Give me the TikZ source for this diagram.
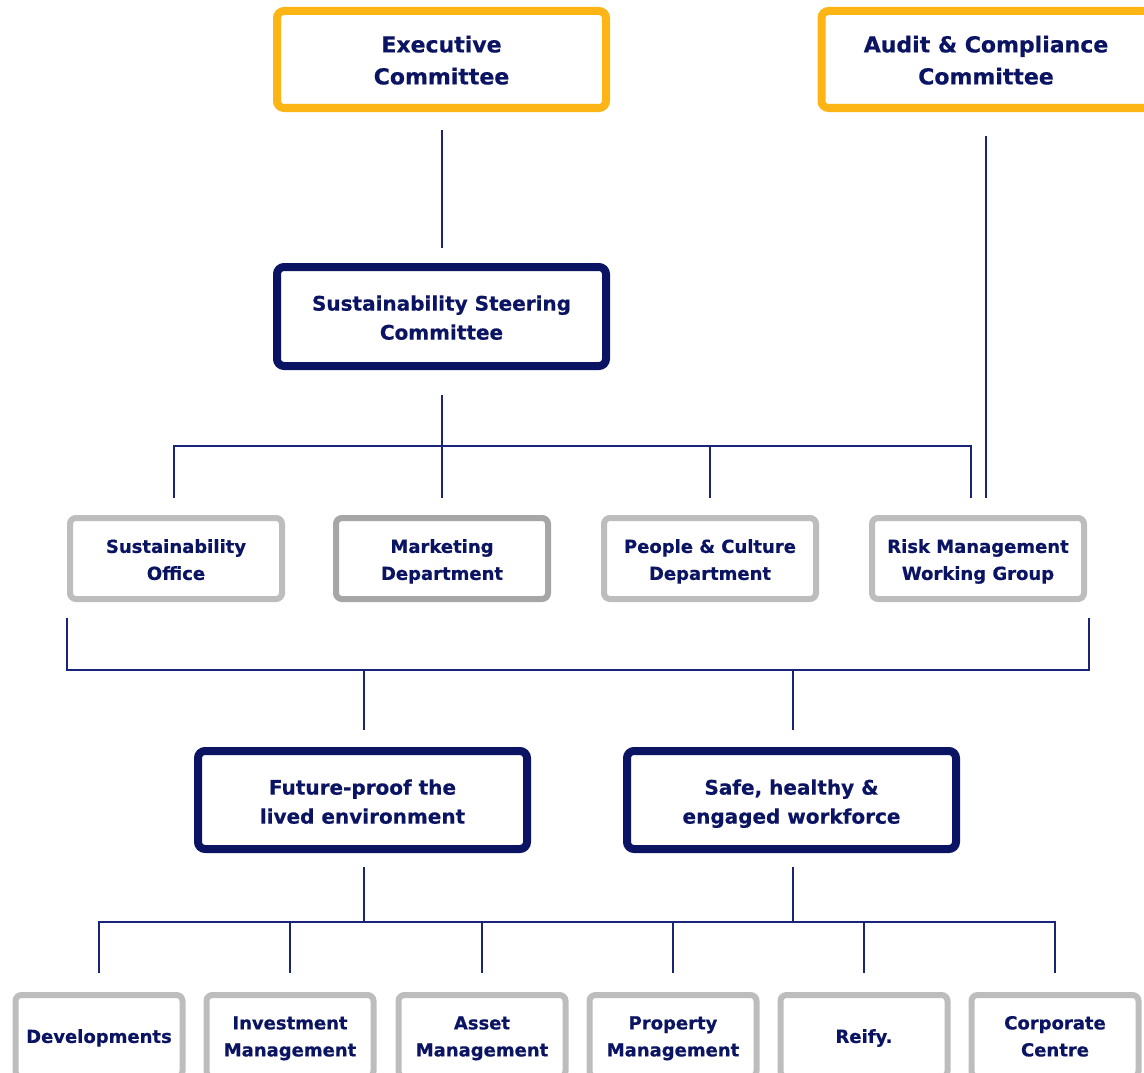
\documentclass[tikz,border=0pt]{standalone}
\usepackage{fontspec}
\setmainfont{DejaVu Sans}[BoldFeatures={FakeBold=0.6}]
\usetikzlibrary{calc}
\definecolor{navy}{HTML}{0B1463}
\definecolor{lnavy}{HTML}{1A2478}
\definecolor{ygold}{HTML}{FDB515}
\definecolor{lgray}{HTML}{BDBDBD}
\definecolor{mgray}{HTML}{A6A6A6}
\newcommand\boxtext[2][2.5pt]{\raisebox{-#1}[\height][\depth]{\begin{tabular}{@{}c@{}}#2\end{tabular}}}
\tikzset{
  base/.style={rectangle, rounded corners=7pt, fill=white, text=navy, inner sep=0pt, font=\bfseries},
  goldbox/.style={base, draw=ygold, line width=8pt, minimum width=329pt, minimum height=97pt, font=\bfseries\fontsize{22}{32}\selectfont},
  navybox/.style={base, draw=navy, line width=8pt, minimum width=329pt, minimum height=98pt, font=\bfseries\fontsize{20}{29}\selectfont},
  graybox/.style={base, draw=lgray, line width=6pt, minimum width=212pt, minimum height=81pt, rounded corners=6pt, font=\bfseries\fontsize{18}{27}\selectfont},
  darkgraybox/.style={graybox, draw=mgray},
  smallbox/.style={graybox, minimum width=167pt, minimum height=82pt},
  conn/.style={draw=lnavy, line width=1.6pt}
}
\begin{document}
\begin{tikzpicture}[x=1pt,y=-1pt]
\useasboundingbox (0,0) rectangle (1144,1073);
\clip (0,0) rectangle (1144,1073);
% level 1
\node[goldbox] (exec) at (441.5,59.5) {\boxtext{Executive\\Committee}};
\node[goldbox] (audit) at (986,59.5) {\boxtext{Audit \& Compliance\\Committee}};
% level 2
\node[navybox, minimum height=99pt] (ssc) at (441.5,316.5) {\boxtext[2.8pt]{Sustainability Steering\\Committee}};
% level 3
\node[graybox] (so) at (176,558.5) {\boxtext{Sustainability\\Office}};
\node[darkgraybox] (mkt) at (442,558.5) {\boxtext{Marketing\\Department}};
\node[graybox] (pc) at (710,558.5) {\boxtext{People \& Culture\\Department}};
\node[graybox] (risk) at (978,558.5) {\boxtext{Risk Management\\Working Group}};
% level 4
\node[navybox] (fp) at (362.5,800) {\boxtext[3.3pt]{Future-proof the\\lived environment}};
\node[navybox] (safe) at (791.5,800) {\boxtext[3.3pt]{Safe, healthy \&\\engaged workforce}};
% level 5
\node[smallbox] (dev) at (99,1036) {\boxtext[1.5pt]{Developments}};
\node[smallbox] (inv) at (290,1036) {\boxtext[1.5pt]{Investment\\Management}};
\node[smallbox] (asset) at (482,1036) {\boxtext[1.5pt]{Asset\\Management}};
\node[smallbox] (prop) at (673,1036) {\boxtext[1.5pt]{Property\\Management}};
\node[smallbox] (reify) at (864,1036) {\boxtext[1.5pt]{Reify.}};
\node[smallbox] (corp) at (1055,1036) {\boxtext[1.5pt]{Corporate\\Centre}};
% connectors level 1-2
\draw[conn] ($(exec.south)+(0.5,18)$) -- ($(ssc.north)+(0.5,-15)$);
\draw[conn] ($(audit.south)+(0,24)$) -- ($(risk.north)+(8,-17)$);
% level 2-3
\draw[conn] ($(ssc.south)+(0.5,25)$) -- ($(mkt.north)+(0,-17)$);
\draw[conn] ($(so.north)+(-2,-17)$) |- ($(risk.north)+(-7,-69)$) -- ($(risk.north)+(-7,-17)$);
\draw[conn] ($(pc.north)+(0,-69)$) -- ($(pc.north)+(0,-17)$);
% level 3-4 bracket
\draw[conn] ($(so.south west)+(0,16)$) |- ($(risk.south east)+(2,68)$) -- ($(risk.south east)+(2,16)$);
\draw[conn] ($(fp.north)+(1.5,-77)$) -- ($(fp.north)+(1.5,-17)$);
\draw[conn] ($(safe.north)+(1.5,-77)$) -- ($(safe.north)+(1.5,-17)$);
% level 4-5
\draw[conn] ($(fp.south)+(1.5,14)$) -- ($(fp.south)+(1.5,69)$);
\draw[conn] ($(safe.south)+(1.5,14)$) -- ($(safe.south)+(1.5,69)$);
\draw[conn] ($(dev.north)+(0,-19)$) |- ($(corp.north)+(0,-70)$) -- ($(corp.north)+(0,-19)$);
\draw[conn] ($(inv.north)+(0,-70)$) -- ($(inv.north)+(0,-19)$);
\draw[conn] ($(asset.north)+(0,-70)$) -- ($(asset.north)+(0,-19)$);
\draw[conn] ($(prop.north)+(0,-70)$) -- ($(prop.north)+(0,-19)$);
\draw[conn] ($(reify.north)+(0,-70)$) -- ($(reify.north)+(0,-19)$);
\end{tikzpicture}
\end{document}
